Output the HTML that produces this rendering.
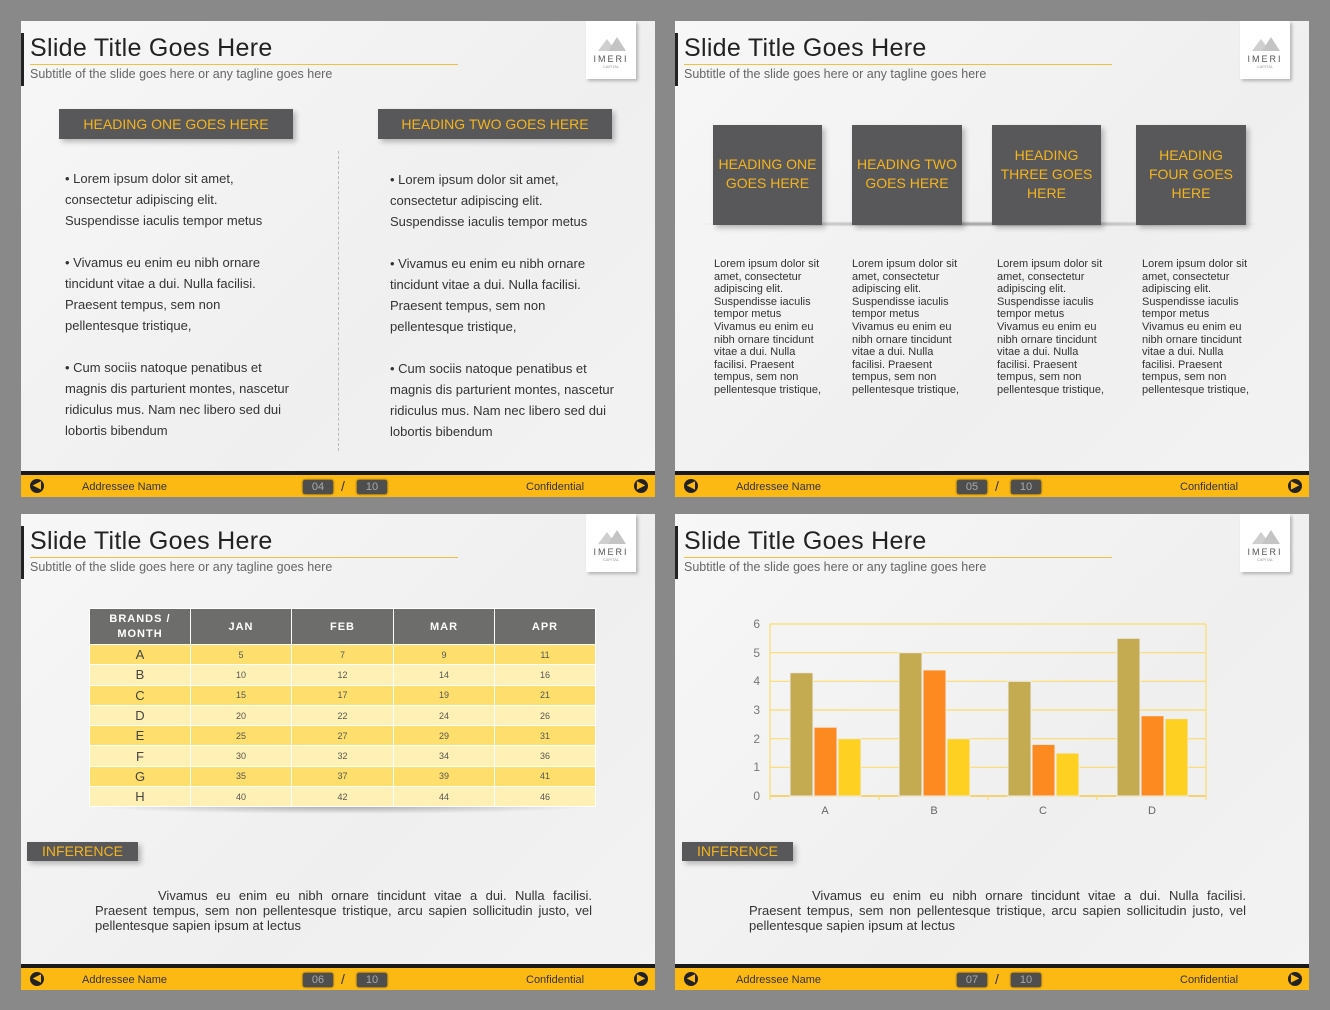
<!DOCTYPE html>
<html><head><meta charset="utf-8"><style>
*{margin:0;padding:0;box-sizing:border-box}
body{width:1330px;height:1010px;background:#898989;position:relative;overflow:hidden;font-family:"Liberation Sans",sans-serif}
.s{position:absolute;width:634px;height:476px;background:linear-gradient(135deg,#f7f7f7,#efefef 60%,#f3f3f3);overflow:hidden}
.a{position:absolute}
.lb{left:0;top:12px;width:3px;height:53px;background:#222}
.t{left:9px;top:13px;font-size:25px;color:#222;letter-spacing:0.3px;font-weight:300}
.ul{left:9px;top:43px;width:428px;height:1px;background:#f0c040}
.st{left:9px;top:46px;font-size:12.5px;color:#666}
.logo{left:565px;top:0;width:50px;height:58px;background:#fff;box-shadow:2px 2px 3px rgba(0,0,0,.25);text-align:center}
.logo b{display:block;font-weight:normal;font-size:9px;letter-spacing:2px;color:#555;margin-top:33px}
.logo i{display:block;font-style:normal;font-size:4px;color:#999}
.mtn{position:absolute;left:12px;top:18px;width:0;height:0;border-left:9px solid transparent;border-right:9px solid transparent;border-bottom:12px solid #cfcfcf}
.mtn2{left:22px;top:16px;border-bottom:14px solid #c4c4c4}
.bk{left:0;top:450px;width:634px;height:4px;background:#1a1a1a}
.ft{left:0;top:454px;width:634px;height:22px;background:#fdb913}
.ar{top:458px;width:14px;height:14px;border-radius:50%;background:#222;color:#fdb913;font-size:10px;line-height:14px;text-align:center;font-weight:bold}
.fx{top:460px;font-size:11px;color:#333}
.pg{top:459px;width:30px;height:14px;background:#4e4e4e;border-radius:2px;color:#aaa;font-size:11px;text-align:center;line-height:14px;box-shadow:0 0 2px #222}
.h{background:#58585a;color:#f5b41c;text-align:center;box-shadow:3px 3px 5px rgba(0,0,0,.25)}
.bt{font-size:13px;line-height:21px;color:#333}
.sm{font-size:11px;line-height:12.6px;color:#333;width:112px}
table{border-collapse:collapse;font-size:9px;color:#555;table-layout:fixed}
td,th{border:1px solid #fff;text-align:center;padding:0}
th{background:#6d6d6b;color:#fff;font-size:11px;letter-spacing:1px;height:36px}
tr.o td{background:#fedf6e}tr.e td{background:#fff0b5}
td{height:20.3px}
td:first-child{font-size:13px;color:#444}
.inf{width:111px;height:19px;font-size:14px;line-height:19px}
.p{font-size:13px;line-height:15px;color:#333;text-align:justify;text-indent:63px;width:497px}
</style></head><body>

<!-- Slide 1 -->
<div class="s" style="left:21px;top:21px">
<div class="a lb"></div><div class="a t">Slide Title Goes Here</div><div class="a ul"></div>
<div class="a st">Subtitle of the slide goes here or any tagline goes here</div>
<div class="a logo"><div class="mtn"></div><div class="mtn mtn2"></div><b>IMERI</b><i>CAPITAL</i></div>
<div class="a h" style="left:38px;top:88px;width:234px;height:30px;line-height:30px;font-size:14px">HEADING ONE GOES HERE</div>
<div class="a h" style="left:357px;top:88px;width:234px;height:30px;line-height:30px;font-size:14px">HEADING TWO GOES HERE</div>
<div class="a" style="left:317px;top:130px;height:300px;border-left:1px dashed #bbb"></div>
<div class="a bt" style="left:44px;top:147px;width:250px">• Lorem ipsum dolor sit amet,<br>consectetur adipiscing elit.<br>Suspendisse iaculis tempor metus<br><br>• Vivamus eu enim eu nibh ornare<br>tincidunt vitae a dui. Nulla facilisi.<br>Praesent tempus, sem non<br>pellentesque tristique,<br><br>• Cum sociis natoque penatibus et<br>magnis dis parturient montes, nascetur<br>ridiculus mus. Nam nec libero sed dui<br>lobortis bibendum</div>
<div class="a bt" style="left:369px;top:148px;width:250px">• Lorem ipsum dolor sit amet,<br>consectetur adipiscing elit.<br>Suspendisse iaculis tempor metus<br><br>• Vivamus eu enim eu nibh ornare<br>tincidunt vitae a dui. Nulla facilisi.<br>Praesent tempus, sem non<br>pellentesque tristique,<br><br>• Cum sociis natoque penatibus et<br>magnis dis parturient montes, nascetur<br>ridiculus mus. Nam nec libero sed dui<br>lobortis bibendum</div>
<div class="a bk"></div><div class="a ft"></div>
<div class="a ar" style="left:9px">&#9664;</div><div class="a fx" style="left:61px">Addressee Name</div>
<div class="a pg" style="left:282px">04</div><div class="a fx" style="left:320px;font-size:14px;top:457px">/</div><div class="a pg" style="left:336px">10</div>
<div class="a fx" style="left:505px">Confidential</div><div class="a ar" style="left:613px">&#9654;</div>
</div>

<!-- Slide 2 -->
<div class="s" style="left:675px;top:21px">
<div class="a lb"></div><div class="a t">Slide Title Goes Here</div><div class="a ul"></div>
<div class="a st">Subtitle of the slide goes here or any tagline goes here</div>
<div class="a logo"><div class="mtn"></div><div class="mtn mtn2"></div><b>IMERI</b><i>CAPITAL</i></div>
<div class="a" style="left:10px;top:200px;width:590px;height:6px;background:radial-gradient(ellipse at center,rgba(0,0,0,.35),rgba(0,0,0,0) 70%)"></div>
<div class="a h" style="left:38px;top:104px;width:109px;height:100px;padding-top:30px;font-size:14px;line-height:19px">HEADING ONE<br>GOES HERE</div>
<div class="a h" style="left:177px;top:104px;width:110px;height:100px;padding-top:30px;font-size:14px;line-height:19px">HEADING TWO<br>GOES HERE</div>
<div class="a h" style="left:317px;top:104px;width:109px;height:100px;padding-top:21px;font-size:14px;line-height:19px">HEADING<br>THREE GOES<br>HERE</div>
<div class="a h" style="left:461px;top:104px;width:110px;height:100px;padding-top:21px;font-size:14px;line-height:19px">HEADING<br>FOUR GOES<br>HERE</div>
<div class="a sm" style="left:39px;top:237px">Lorem ipsum dolor sit amet, consectetur adipiscing elit. Suspendisse iaculis tempor metus Vivamus eu enim eu nibh ornare tincidunt vitae a dui. Nulla facilisi. Praesent tempus, sem non pellentesque tristique,</div>
<div class="a sm" style="left:177px;top:237px">Lorem ipsum dolor sit amet, consectetur adipiscing elit. Suspendisse iaculis tempor metus Vivamus eu enim eu nibh ornare tincidunt vitae a dui. Nulla facilisi. Praesent tempus, sem non pellentesque tristique,</div>
<div class="a sm" style="left:322px;top:237px">Lorem ipsum dolor sit amet, consectetur adipiscing elit. Suspendisse iaculis tempor metus Vivamus eu enim eu nibh ornare tincidunt vitae a dui. Nulla facilisi. Praesent tempus, sem non pellentesque tristique,</div>
<div class="a sm" style="left:467px;top:237px">Lorem ipsum dolor sit amet, consectetur adipiscing elit. Suspendisse iaculis tempor metus Vivamus eu enim eu nibh ornare tincidunt vitae a dui. Nulla facilisi. Praesent tempus, sem non pellentesque tristique,</div>
<div class="a bk"></div><div class="a ft"></div>
<div class="a ar" style="left:9px">&#9664;</div><div class="a fx" style="left:61px">Addressee Name</div>
<div class="a pg" style="left:282px">05</div><div class="a fx" style="left:320px;font-size:14px;top:457px">/</div><div class="a pg" style="left:336px">10</div>
<div class="a fx" style="left:505px">Confidential</div><div class="a ar" style="left:613px">&#9654;</div>
</div>

<!-- Slide 3 -->
<div class="s" style="left:21px;top:514px">
<div class="a lb"></div><div class="a t">Slide Title Goes Here</div><div class="a ul"></div>
<div class="a st">Subtitle of the slide goes here or any tagline goes here</div>
<div class="a logo"><div class="mtn"></div><div class="mtn mtn2"></div><b>IMERI</b><i>CAPITAL</i></div>
<div class="a" style="left:68px;top:292px;width:506px;height:8px;background:radial-gradient(ellipse at center top,rgba(0,0,0,.3),rgba(0,0,0,0) 70%)"></div>
<table class="a" style="left:68px;top:94px;width:506px">
<colgroup><col style="width:101px"><col style="width:101px"><col style="width:102px"><col style="width:101px"><col style="width:101px"></colgroup>
<tr><th style="line-height:15px">BRANDS /<br>MONTH</th><th>JAN</th><th>FEB</th><th>MAR</th><th>APR</th></tr>
<tr class="o"><td>A</td><td>5</td><td>7</td><td>9</td><td>11</td></tr>
<tr class="e"><td>B</td><td>10</td><td>12</td><td>14</td><td>16</td></tr>
<tr class="o"><td>C</td><td>15</td><td>17</td><td>19</td><td>21</td></tr>
<tr class="e"><td>D</td><td>20</td><td>22</td><td>24</td><td>26</td></tr>
<tr class="o"><td>E</td><td>25</td><td>27</td><td>29</td><td>31</td></tr>
<tr class="e"><td>F</td><td>30</td><td>32</td><td>34</td><td>36</td></tr>
<tr class="o"><td>G</td><td>35</td><td>37</td><td>39</td><td>41</td></tr>
<tr class="e"><td>H</td><td>40</td><td>42</td><td>44</td><td>46</td></tr>
</table>
<div class="a h inf" style="left:6px;top:328px">INFERENCE</div>
<div class="a p" style="left:74px;top:374px">Vivamus eu enim eu nibh ornare tincidunt vitae a dui. Nulla facilisi. Praesent tempus, sem non pellentesque tristique, arcu sapien sollicitudin justo, vel pellentesque sapien ipsum at lectus</div>
<div class="a bk"></div><div class="a ft"></div>
<div class="a ar" style="left:9px">&#9664;</div><div class="a fx" style="left:61px">Addressee Name</div>
<div class="a pg" style="left:282px">06</div><div class="a fx" style="left:320px;font-size:14px;top:457px">/</div><div class="a pg" style="left:336px">10</div>
<div class="a fx" style="left:505px">Confidential</div><div class="a ar" style="left:613px">&#9654;</div>
</div>

<!-- Slide 4 -->
<div class="s" style="left:675px;top:514px">
<div class="a lb"></div><div class="a t">Slide Title Goes Here</div><div class="a ul"></div>
<div class="a st">Subtitle of the slide goes here or any tagline goes here</div>
<div class="a logo"><div class="mtn"></div><div class="mtn mtn2"></div><b>IMERI</b><i>CAPITAL</i></div>
<svg class="a" style="left:0;top:0" width="634" height="320" font-family="Liberation Sans,sans-serif">
<g stroke="#fbdc6c" stroke-width="1.2">
<line x1="95" y1="110" x2="531" y2="110"/><line x1="95" y1="138.7" x2="531" y2="138.7"/><line x1="95" y1="167.3" x2="531" y2="167.3"/><line x1="95" y1="196" x2="531" y2="196"/><line x1="95" y1="224.7" x2="531" y2="224.7"/><line x1="95" y1="253.3" x2="531" y2="253.3"/>
<line x1="95" y1="282" x2="531" y2="282" stroke="#f5c84a" stroke-width="1.5"/>
<line x1="95" y1="110" x2="95" y2="286"/><line x1="531" y1="110" x2="531" y2="286"/>
<line x1="204" y1="282" x2="204" y2="286"/><line x1="313" y1="282" x2="313" y2="286"/><line x1="422" y1="282" x2="422" y2="286"/>
</g>
<g font-size="12" fill="#777" text-anchor="end">
<text x="85" y="114">6</text><text x="85" y="143">5</text><text x="85" y="171">4</text><text x="85" y="200">3</text><text x="85" y="229">2</text><text x="85" y="257">1</text><text x="85" y="286">0</text>
</g>
<g font-size="11" fill="#666" text-anchor="middle">
<text x="150" y="300">A</text><text x="259" y="300">B</text><text x="368" y="300">C</text><text x="477" y="300">D</text>
</g>
<g stroke="#eee" stroke-width="1">
<rect x="115" y="158.7" width="23" height="123.3" fill="#c4ab52"/><rect x="139" y="213.2" width="23" height="68.8" fill="#fd8a21"/><rect x="163" y="224.7" width="23" height="57.3" fill="#fed022"/>
<rect x="224" y="138.7" width="23" height="143.3" fill="#c4ab52"/><rect x="248" y="155.9" width="23" height="126.1" fill="#fd8a21"/><rect x="272" y="224.7" width="23" height="57.3" fill="#fed022"/>
<rect x="333" y="167.3" width="23" height="114.7" fill="#c4ab52"/><rect x="357" y="230.4" width="23" height="51.6" fill="#fd8a21"/><rect x="381" y="239" width="23" height="43" fill="#fed022"/>
<rect x="442" y="124.3" width="23" height="157.7" fill="#c4ab52"/><rect x="466" y="201.7" width="23" height="80.3" fill="#fd8a21"/><rect x="490" y="204.6" width="23" height="77.4" fill="#fed022"/>
</g>
</svg>
<div class="a h inf" style="left:7px;top:328px">INFERENCE</div>
<div class="a p" style="left:74px;top:374px">Vivamus eu enim eu nibh ornare tincidunt vitae a dui. Nulla facilisi. Praesent tempus, sem non pellentesque tristique, arcu sapien sollicitudin justo, vel pellentesque sapien ipsum at lectus</div>
<div class="a bk"></div><div class="a ft"></div>
<div class="a ar" style="left:9px">&#9664;</div><div class="a fx" style="left:61px">Addressee Name</div>
<div class="a pg" style="left:282px">07</div><div class="a fx" style="left:320px;font-size:14px;top:457px">/</div><div class="a pg" style="left:336px">10</div>
<div class="a fx" style="left:505px">Confidential</div><div class="a ar" style="left:613px">&#9654;</div>
</div>
</body></html>
